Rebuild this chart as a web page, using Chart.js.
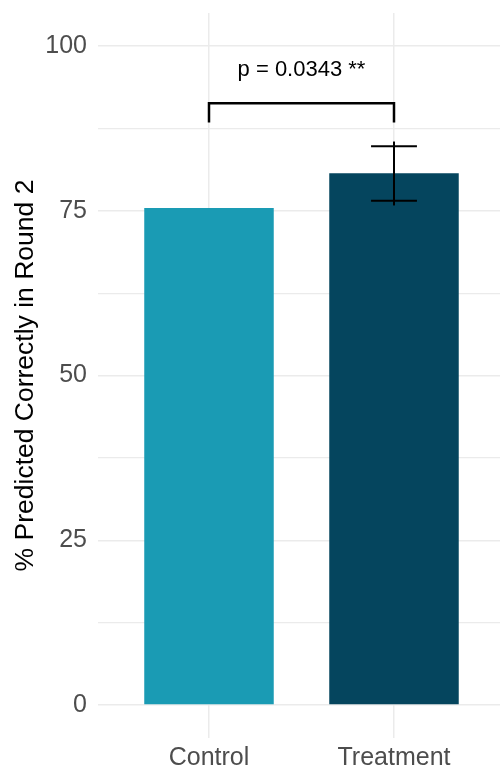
<!DOCTYPE html>
<html>
<head>
<meta charset="utf-8">
<style>
  html, body { margin: 0; padding: 0; background: #fff; }
  #wrap { width: 500px; height: 770px; }
</style>
<script src="https://cdn.jsdelivr.net/npm/chart.js@4"></script>
</head>
<body>
<div id="wrap"><canvas id="c" width="500" height="770"></canvas></div>
<script>
// data
const groups = ['Control', 'Treatment'];
const groupPos = [1, 2];
const pctCorrect = [75.4, 80.7];
const barColors = ['#1A9BB4', '#05455E'];

// treatment error bar: whisker line and cap levels
const whisker = [75.8, 85.5];
const caps = [76.5, 84.8];
const capHalf = 0.124;

// significance bracket
const bracketLow = 88.4;
const bracketHigh = 91.3;
const pLabel = 'p = 0.0343 **';
const pLabelY = 96.3;

const yTicks = [0, 12.5, 25, 37.5, 50, 62.5, 75, 87.5, 100];

const FONT = "'Liberation Sans', Arial, Helvetica, sans-serif";
const black = '#000000';

const lineDs = (pts, w) => ({
  type: 'line',
  data: pts,
  order: 0,
  borderColor: black,
  borderWidth: w,
  pointRadius: 0,
  fill: false,
  tension: 0,
  borderCapStyle: 'butt',
  clip: false,
});

const pLabelPlugin = {
  id: 'pLabel',
  afterDatasetsDraw(chart) {
    const { ctx, scales: { x, y } } = chart;
    ctx.save();
    ctx.font = `22px ${FONT}`;
    ctx.fillStyle = black;
    ctx.textAlign = 'center';
    ctx.textBaseline = 'middle';
    ctx.fillText(pLabel, x.getPixelForValue((groupPos[0] + groupPos[1]) / 2), y.getPixelForValue(pLabelY));
    ctx.restore();
  },
};

new Chart(document.getElementById('c'), {
  type: 'bar',
  data: {
    datasets: [
      {
        type: 'bar',
        order: 5,
        data: groupPos.map((g, i) => ({ x: g, y: pctCorrect[i] })),
        backgroundColor: barColors,
        borderWidth: 0,
        categoryPercentage: 0.7,
        barPercentage: 1,
      },
      lineDs([{ x: 2, y: whisker[0] }, { x: 2, y: whisker[1] }], 2),
      lineDs([{ x: 2 - capHalf, y: caps[0] }, { x: 2 + capHalf, y: caps[0] }], 2),
      lineDs([{ x: 2 - capHalf, y: caps[1] }, { x: 2 + capHalf, y: caps[1] }], 2),
      lineDs([
        { x: groupPos[0], y: bracketLow },
        { x: groupPos[0], y: bracketHigh },
        { x: groupPos[1], y: bracketHigh },
        { x: groupPos[1], y: bracketLow },
      ], 2.5),
    ],
  },
  options: {
    responsive: false,
    animation: false,
    layout: { padding: { top: 13, right: 0, left: 0, bottom: 0 } },
    plugins: { legend: { display: false }, tooltip: { enabled: false } },
    scales: {
      x: {
        type: 'linear',
        min: 0.4,
        max: 2.573,
        offset: false,
        afterBuildTicks: s => { s.ticks = groupPos.map(v => ({ value: v })); },
        afterFit: s => { s.height = 32; },
        ticks: {
          callback: v => groups[groupPos.indexOf(v)] ?? '',
          color: '#4D4D4D',
          font: { family: FONT, size: 25 },
          padding: 5,
          maxRotation: 0,
        },
        grid: { color: '#EBEBEB', lineWidth: 1.5, drawTicks: false, offset: false },
        border: { display: false },
      },
      y: {
        min: -5,
        max: 105,
        afterBuildTicks: s => { s.ticks = yTicks.map(v => ({ value: v })); },
        afterFit: s => { s.width = 98; s.paddingTop = 0; s.paddingBottom = 0; },
        ticks: {
          callback: v => (v % 25 === 0 ? String(v) : ''),
          color: '#4D4D4D',
          font: { family: FONT, size: 25 },
          padding: 11,
        },
        grid: {
          color: '#EBEBEB',
          lineWidth: c => (c.tick && c.tick.value % 25 === 0 ? 1.5 : 1.2),
          drawTicks: false,
        },
        border: { display: false },
        title: {
          display: true,
          text: '% Predicted Correctly in Round 2',
          color: black,
          font: { family: FONT, size: 26.5 },
          padding: { top: 10, bottom: 0 },
        },
      },
    },
  },
  plugins: [pLabelPlugin],
});
</script>
</body>
</html>
